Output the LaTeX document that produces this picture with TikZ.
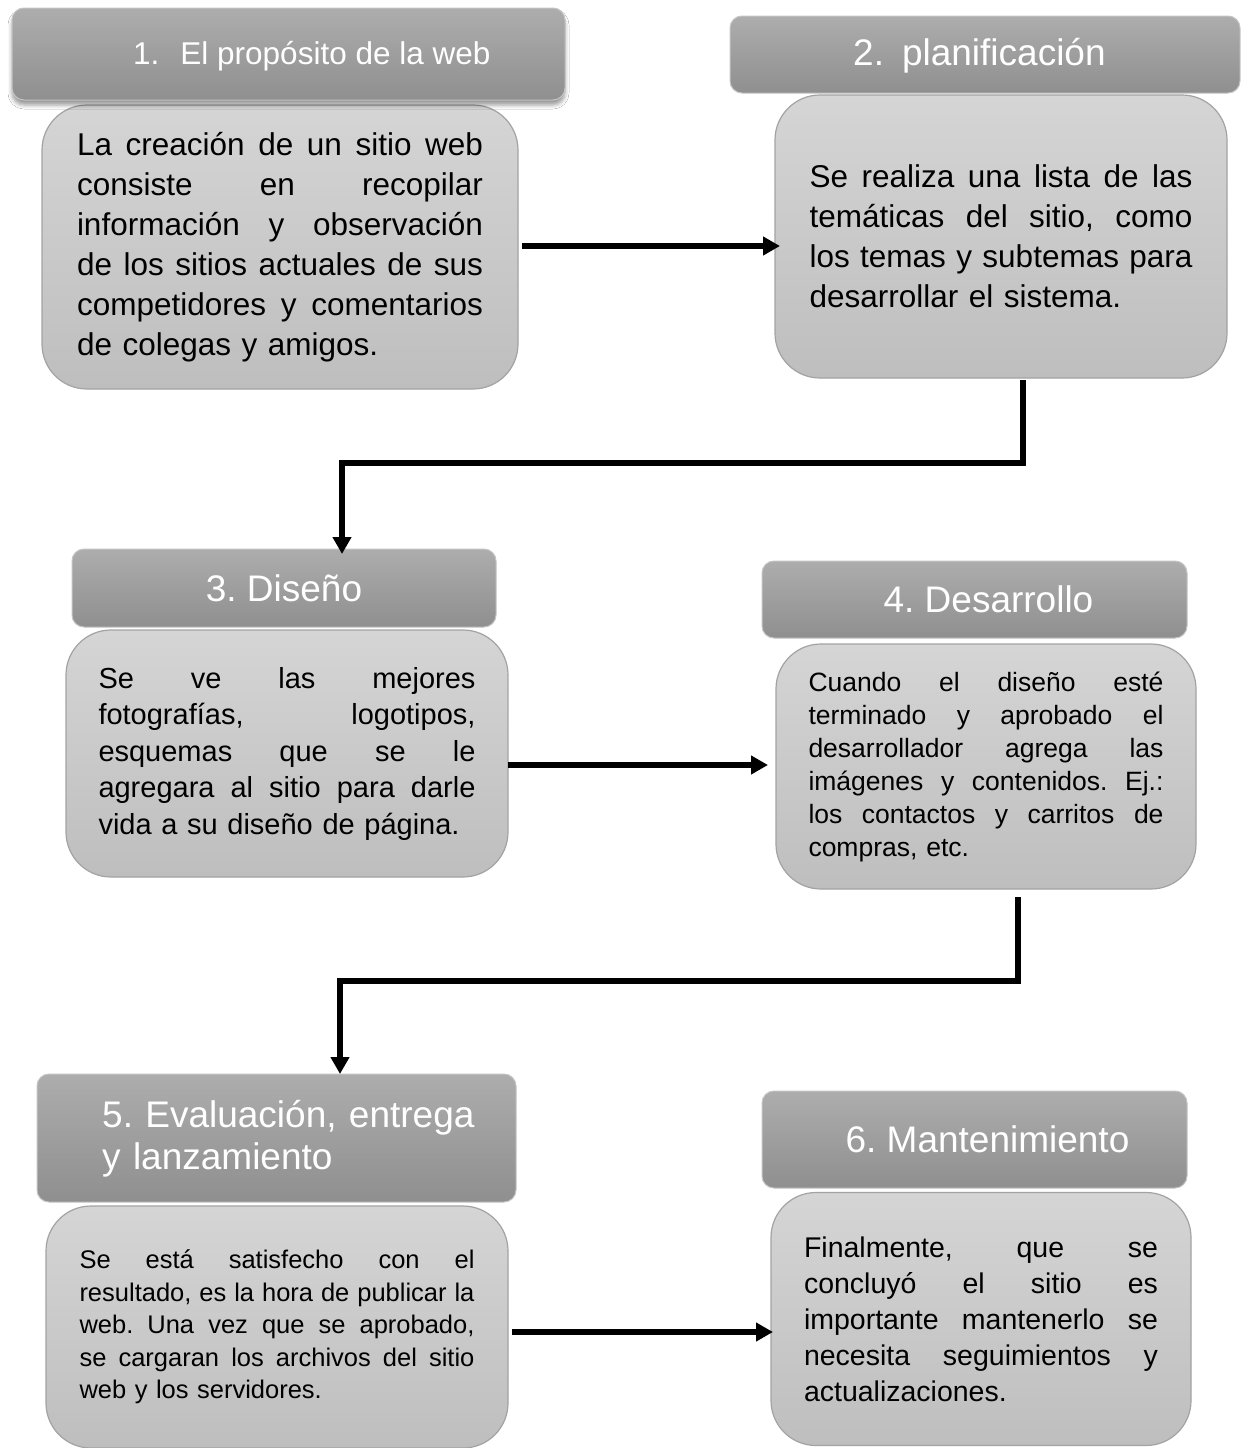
\documentclass[tikz,border=0pt]{standalone}
\usepackage{fontspec}
\setmainfont{Liberation Sans}
\usetikzlibrary{arrows.meta,shadows.blur}
\frenchspacing
\definecolor{bodytop}{HTML}{D5D5D5}
\definecolor{bodybot}{HTML}{BEBEBE}
\definecolor{bodyline}{HTML}{A3A3A3}
\definecolor{headtop}{HTML}{ADADAD}
\definecolor{headbot}{HTML}{8F8F8F}
\definecolor{headline}{HTML}{C4C4C4}
\newlength{\jw}
\newcommand{\jl}[1]{\hbox to \jw{\spaceskip=0.28em plus 1fil\relax #1}}
\tikzset{
  body/.style={draw=bodyline, line width=1.2pt, rounded corners=45pt,
    top color=bodytop, bottom color=bodybot, inner sep=0pt, align=left},
  head/.style={draw=headline, line width=1pt, rounded corners=12pt,
    top color=headtop, bottom color=headbot, inner sep=0pt},
  headtext/.style={text=white, inner sep=0pt, anchor=base},
  conn/.style={line width=6pt, -{Triangle[length=17pt,width=18pt]}},
}
\begin{document}
\begin{tikzpicture}[x=1pt,y=-1pt]
\fill[white] (0,0) rectangle (1241,1448);
\useasboundingbox (0,0) rectangle (1241,1448);

% ---- bodies
\global\jw=406pt
\node[body, minimum width=476pt, minimum height=284pt, text width=406pt,
  font={\fontsize{31.5}{40}\selectfont}] (b1) at (280,247) {%
\jl{La creación de un sitio web}
\jl{consiste en recopilar}
\jl{información y observación}
\jl{de los sitios actuales de sus}
\jl{competidores y comentarios}
\hbox{de colegas y amigos.}};

\global\jw=383pt
\node[body, minimum width=452pt, minimum height=283pt, text width=383pt,
  font={\fontsize{31.5}{40}\selectfont}] (b2) at (1001,236.5) {%
\jl{Se realiza una lista de las}
\jl{temáticas del sitio, como}
\jl{los temas y subtemas para}
\hbox{desarrollar el sistema.}};

\global\jw=377pt
\node[body, minimum width=442pt, minimum height=247pt, text width=377pt,
  font={\fontsize{29}{36.5}\selectfont}] (b3) at (287,753.5) {%
\jl{Se ve las mejores}
\jl{fotografías, logotipos,}
\jl{esquemas que se le}
\jl{agregara al sitio para darle}
\hbox{vida a su diseño de página.}};

\global\jw=355pt
\node[body, minimum width=420pt, minimum height=245pt, text width=355pt,
  font={\fontsize{26.5}{33}\selectfont}] (b4) at (986,766.5) {%
\jl{Cuando el diseño esté}
\jl{terminado y aprobado el}
\jl{desarrollador agrega las}
\jl{imágenes y contenidos. Ej.:}
\jl{los contactos y carritos de}
\hbox{compras, etc.}};

\global\jw=395pt
\node[body, minimum width=462pt, minimum height=242pt, text width=395pt,
  font={\fontsize{25.5}{32.5}\selectfont}] (b5) at (277,1327) {%
\jl{Se está satisfecho con el}
\jl{resultado, es la hora de publicar la}
\jl{web. Una vez que se aprobado,}
\jl{se cargaran los archivos del sitio}
\hbox{web y los servidores.}};

\global\jw=354pt
\node[body, minimum width=420pt, minimum height=253pt, text width=354pt,
  font={\fontsize{28.5}{36}\selectfont}] (b6) at (981,1319) {%
\jl{Finalmente, que se}
\jl{concluyó el sitio es}
\jl{importante mantenerlo se}
\jl{necesita seguimientos y}
\hbox{actualizaciones.}};

% ---- headings
\node[head, minimum width=553pt, minimum height=92pt,
  blur shadow={shadow xshift=0pt, shadow yshift=-5pt, shadow blur radius=4pt, shadow opacity=40}] (h1) at (288.5,54) {};
\node[head, minimum width=510pt, minimum height=77pt] (h2) at (985,54.5) {};
\node[head, minimum width=424pt, minimum height=78pt] (h3) at (284,588) {};
\node[head, minimum width=425pt, minimum height=77pt] (h4) at (974.5,599.5) {};
\node[head, minimum width=479pt, minimum height=128pt] (h5) at (276.5,1138) {};
\node[head, minimum width=425pt, minimum height=97pt] (h6) at (974.5,1139.5) {};

\node[headtext, anchor=base west, font=\fontsize{31.5}{38}\selectfont] (t1) at (133,64) {1.\hspace{21pt}El propósito de la web};
\node[headtext, anchor=base west, font=\fontsize{37}{44}\selectfont] (t2) at (853,65.5) {2.\hspace{18pt}planificación};
\node[headtext, font=\fontsize{37}{44}\selectfont] (t3) at (284,601.5) {3. Diseño};
\node[headtext, font=\fontsize{37}{44}\selectfont] (t4) at (988.5,612.5) {4. Desarrollo};
\node[headtext, anchor=base west, text width=410pt, align=left, font=\fontsize{37}{42.5}\selectfont] (t5) at (102,1127) {5. Evaluación, entrega\\y lanzamiento};
\node[headtext, font=\fontsize{37}{44}\selectfont] (t6) at (987.5,1152.5) {6. Mantenimiento};

% ---- connectors
\coordinate (a1s) at (522,246);
\coordinate (a1e) at (780,246);
\draw[conn] (a1s) -- (a1e);

\coordinate (c2a) at (1023,380);
\coordinate (c2b) at (1023,463);
\coordinate (c2c) at (342,463);
\coordinate (c2d) at (342,554);
\draw[conn] (c2a) -- (c2b) -- (c2c) -- (c2d);

\coordinate (a3s) at (508,765);
\coordinate (a3e) at (768,765);
\draw[conn] (a3s) -- (a3e);

\coordinate (c4a) at (1018,897);
\coordinate (c4b) at (1018,981);
\coordinate (c4c) at (340,981);
\coordinate (c4d) at (340,1074);
\draw[conn] (c4a) -- (c4b) -- (c4c) -- (c4d);

\coordinate (a5s) at (512,1332);
\coordinate (a5e) at (773,1332);
\draw[conn] (a5s) -- (a5e);
\end{tikzpicture}
\end{document}
